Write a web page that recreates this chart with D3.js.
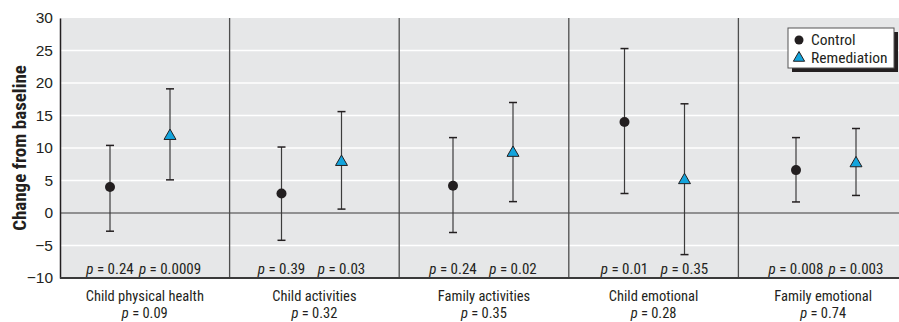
<!DOCTYPE html>
<html>
<head>
<meta charset="utf-8">
<script src="https://cdn.jsdelivr.net/npm/d3@7"></script>
<style>
  body { margin: 0; background: #fff; }
  svg { display: block; font-family: "Liberation Sans Narrow", "Arial Narrow", "Roboto Condensed", sans-serif; }
  .tick text { font-size: 15.5px; fill: #231f20; }
</style>
</head>
<body>
<svg width="899" height="322"></svg>
<script>
var categories = ["Child physical health", "Child activities", "Family activities", "Child emotional", "Family emotional"];
var groupP = ["0.09", "0.32", "0.35", "0.28", "0.74"];

// control series
var controlMean = [4, 3, 4.2, 14, 6.6];
var controlLow  = [-2.8, -4.2, -3.0, 3.0, 1.7];
var controlHigh = [10.4, 10.15, 11.6, 25.3, 11.6];
var controlP    = ["0.24", "0.39", "0.24", "0.01", "0.008"];

// remediation series
var remedMean = [12, 8, 9.4, 5.2, 7.8];
var remedLow  = [5.1, 0.6, 1.75, -6.4, 2.7];
var remedHigh = [19.1, 15.6, 17, 16.8, 13.0];
var remedP    = ["0.0009", "0.03", "0.02", "0.35", "0.003"];

var yTicks = [-10, -5, 0, 5, 10, 15, 20, 25, 30];

var svg = d3.select("svg"),
    mLeft = 60, mRight = 908, mTop = 18, mBottom = 278;

var y = d3.scaleLinear().domain([-10, 30]).range([mBottom, mTop]);
var xBand = d3.scaleBand().domain(categories).range([mLeft, mRight]);
// marker positions: points drift a bit relative to the panel dividers in the original
var xPt = d3.scalePoint().domain(categories).range([110, 796]);
var seriesOffset = { control: 0, remed: 60 };

function px(cat, s) {
  return xPt(cat) + seriesOffset[s];
}

// plot background
svg.append("rect")
   .attr("x", mLeft).attr("y", mTop)
   .attr("width", mRight - mLeft).attr("height", mBottom - mTop)
   .attr("fill", "#e6e7e8");

// white gridlines
svg.append("g").selectAll("line")
   .data(yTicks.filter(function(d){ return d != 0 && d != -10 && d != 30; }))
   .enter().append("line")
   .attr("x1", mLeft).attr("x2", mRight)
   .attr("y1", function(d){ return y(d); })
   .attr("y2", function(d){ return y(d); })
   .attr("stroke", "#fff").attr("stroke-width", 1.5);

// zero line
svg.append("line")
   .attr("x1", mLeft).attr("x2", mRight)
   .attr("y1", y(0)).attr("y2", y(0))
   .attr("stroke", "#3a3a3a").attr("stroke-width", 1.2);

// panel dividers
svg.append("g").selectAll("line")
   .data(categories.slice(1))
   .enter().append("line")
   .attr("x1", function(d){ return xBand(d); })
   .attr("x2", function(d){ return xBand(d); })
   .attr("y1", mTop).attr("y2", mBottom)
   .attr("stroke", "#4d4d4d").attr("stroke-width", 1.3);

// axes
var yAxis = svg.append("g")
   .attr("transform", "translate(" + mLeft + ",0)")
   .call(d3.axisLeft(y).tickValues(yTicks).tickSize(0).tickPadding(7)
     .tickFormat(function(d){ return d < 0 ? "\u2212" + Math.abs(d) : d; }));
yAxis.select(".domain").attr("stroke", "#231f20").attr("stroke-width", 1.5);

svg.append("line")
   .attr("x1", mLeft).attr("x2", mRight)
   .attr("y1", mBottom).attr("y2", mBottom)
   .attr("stroke", "#3a3a3a").attr("stroke-width", 2);

svg.append("text")
   .attr("transform", "translate(26," + ((mTop + mBottom) / 2) + ") rotate(-90)")
   .attr("text-anchor", "middle")
   .attr("font-size", 19).attr("font-weight", "bold").attr("fill", "#231f20")
   .text("Change from baseline");

// error bars + markers
function drawSeries(key, mean, lo, hi, pv) {
  var g = svg.append("g").selectAll("g")
     .data(categories)
     .enter().append("g");

  g.append("line")
   .attr("x1", function(d){ return px(d, key); })
   .attr("x2", function(d){ return px(d, key); })
   .attr("y1", function(d, i){ return y(lo[i]); })
   .attr("y2", function(d, i){ return y(hi[i]); })
   .attr("stroke", "#3c3c3c").attr("stroke-width", 1.2);

  [lo, hi].forEach(function(arr){
    g.append("line")
     .attr("x1", function(d){ return px(d, key) - 4; })
     .attr("x2", function(d){ return px(d, key) + 4; })
     .attr("y1", function(d, i){ return y(arr[i]); })
     .attr("y2", function(d, i){ return y(arr[i]); })
     .attr("stroke", "#231f20").attr("stroke-width", 1.5);
  });

  if (key == "control") {
    g.append("circle")
     .attr("cx", function(d){ return px(d, key); })
     .attr("cy", function(d, i){ return y(mean[i]); })
     .attr("r", 5).attr("fill", "#231f20");
  } else {
    g.append("path")
     .attr("d", d3.symbol().type(d3.symbolTriangle).size(62))
     .attr("transform", function(d, i){ return "translate(" + px(d, key) + "," + (y(mean[i]) + 1) + ")"; })
     .attr("fill", "#13a4dc").attr("stroke", "#231f20").attr("stroke-width", 1);
  }

  var t = g.append("text")
     .attr("x", function(d){ return px(d, key); })
     .attr("y", mBottom - 4)
     .attr("text-anchor", "middle")
     .attr("font-size", 15).attr("fill", "#231f20");
  t.append("tspan").attr("font-style", "italic").text("p");
  t.append("tspan").text(function(d, i){ return " = " + pv[i]; });
}

drawSeries("control", controlMean, controlLow, controlHigh, controlP);
drawSeries("remed", remedMean, remedLow, remedHigh, remedP);

// category labels, two lines each
var cx = function(d){ return xBand(d) + xBand.bandwidth() / 2; };
svg.append("g").selectAll("text")
   .data(categories)
   .enter().append("text")
   .attr("x", cx).attr("y", 300.5)
   .attr("text-anchor", "middle")
   .attr("font-size", 14.5).attr("fill", "#231f20")
   .text(function(d){ return d; });
var l2 = svg.append("g").selectAll("text")
   .data(categories)
   .enter().append("text")
   .attr("x", cx).attr("y", 317.5)
   .attr("text-anchor", "middle")
   .attr("font-size", 14.5).attr("fill", "#231f20");
l2.append("tspan").attr("font-style", "italic").text("p");
l2.append("tspan").text(function(d, i){ return " = " + groupP[i]; });

// legend
var lg = svg.append("g").attr("transform", "translate(788,28)");
lg.append("rect").attr("x", 4).attr("y", 4).attr("width", 106).attr("height", 40).attr("fill", "#231f20");
lg.append("rect").attr("width", 106).attr("height", 40).attr("fill", "#fff").attr("stroke", "#555").attr("stroke-width", 1);
lg.append("circle").attr("cx", 11).attr("cy", 12).attr("r", 4.5).attr("fill", "#231f20");
lg.append("path").attr("d", d3.symbol().type(d3.symbolTriangle).size(55))
  .attr("transform", "translate(11,30)")
  .attr("fill", "#13a4dc").attr("stroke", "#231f20").attr("stroke-width", 1);
lg.append("text").attr("x", 23).attr("y", 17).attr("font-size", 15.5).attr("fill", "#231f20").text("Control");
lg.append("text").attr("x", 23).attr("y", 35).attr("font-size", 15.5).attr("fill", "#231f20").text("Remediation");
</script>
</body>
</html>
